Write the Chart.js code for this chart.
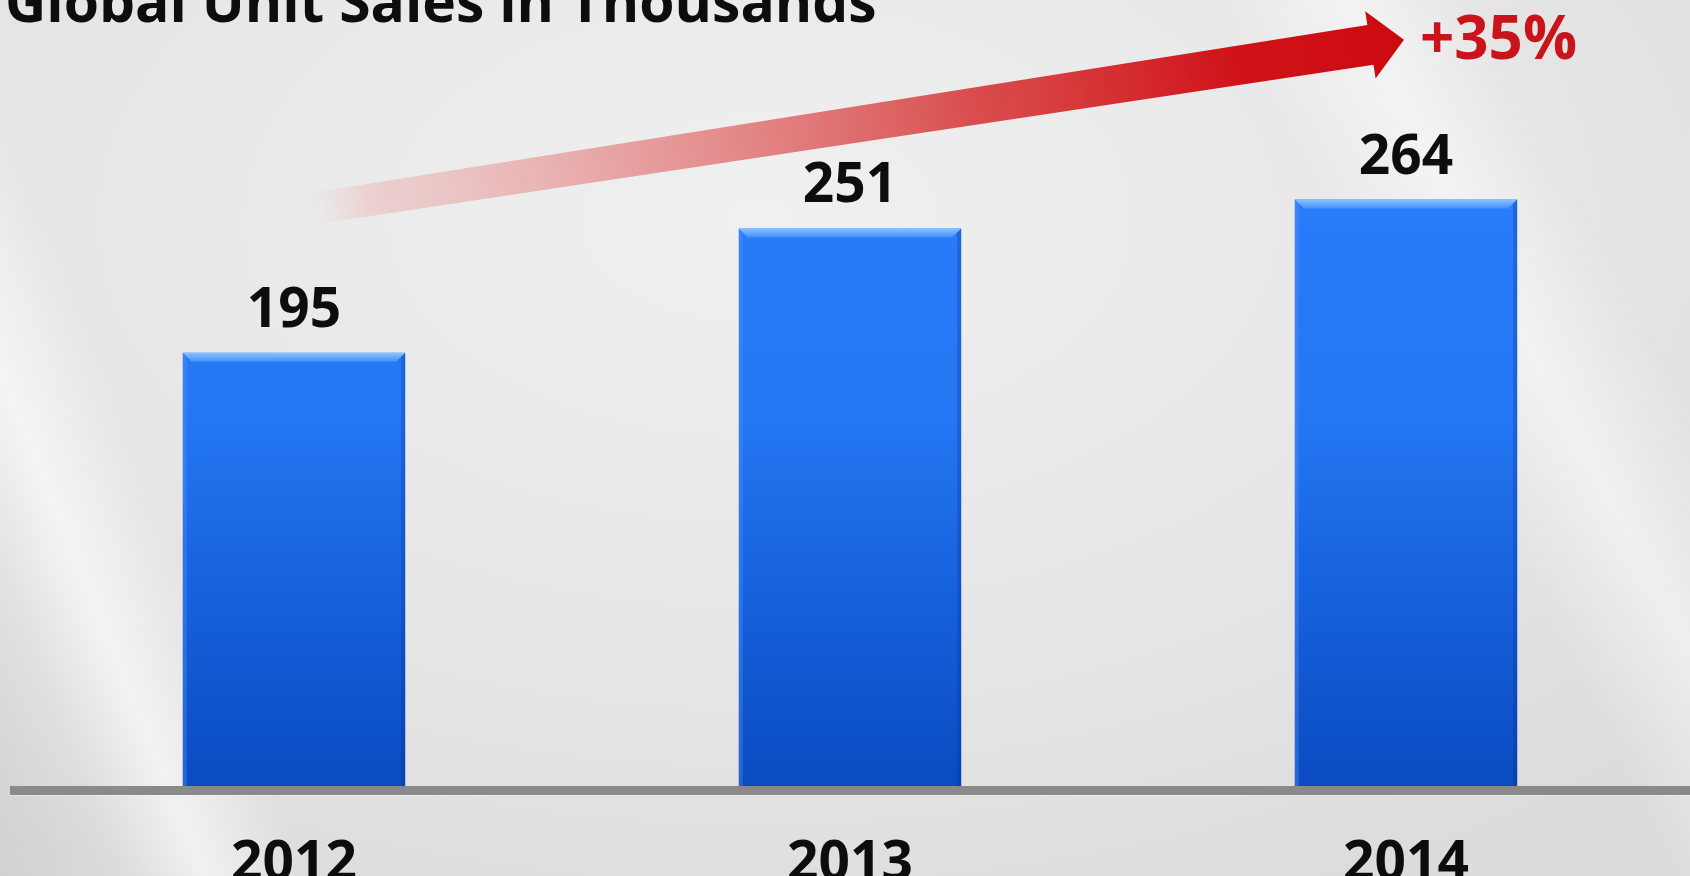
<!DOCTYPE html>
<html>
<head>
<meta charset="utf-8">
<script src="https://cdn.jsdelivr.net/npm/chart.js@4.4.1/dist/chart.umd.min.js"></script>
<style>
  html, body { margin: 0; padding: 0; width: 1690px; height: 876px; overflow: hidden; }
  body {
    background:
      linear-gradient(68deg, rgba(200,200,200,0.55) 0%, rgba(200,200,200,0) 6%, rgba(255,255,255,0.6) 10%, rgba(255,255,255,0) 15%, rgba(255,255,255,0) 100%),
      linear-gradient(62deg, rgba(255,255,255,0) 78%, rgba(255,255,255,0.5) 84%, rgba(255,255,255,0) 90%),
      radial-gradient(ellipse 75% 85% at 45% 25%, #f0f0f0 0%, #e7e7e7 55%, #dcdcdc 100%);
  }
  #wrap { position: absolute; left: 0; top: 0; width: 1690px; height: 942px; }
</style>
</head>
<body>
<div id="wrap"><canvas id="c" width="1690" height="942"></canvas></div>
<script>
const chartTitle = 'Global Unit Sales in Thousands';
const categories = ['2012', '2013', '2014'];
const unitSales = [195, 251, 264];
const growthLabel = '+35%';

const FONT = '"Open Sans", "DejaVu Sans", sans-serif';

function barGradient(ctx, area) {
  const g = ctx.createLinearGradient(0, area.bottom, 0, area.top);
  g.addColorStop(0, '#0a4bc0');
  g.addColorStop(0.25, '#1660dc');
  g.addColorStop(0.5, '#2476f2');
  g.addColorStop(1, '#2d80ff');
  return g;
}

const decorPlugin = {
  id: 'decor',
  beforeDatasetsDraw(chart) {
    const ctx = chart.ctx;
    const xs = chart.scales.x, ys = chart.scales.y;
    const W = chart.width;
    // baseline
    const base = ys.getPixelForValue(0);
    ctx.save();
    ctx.fillStyle = '#8a8a8a';
    ctx.fillRect(10, base, W - 10, 9);
    ctx.fillStyle = 'rgba(255,255,255,0.35)';
    ctx.fillRect(10, base + 9, W - 10, 1);
    ctx.restore();

    // title (partly cut at top)
    ctx.save();
    ctx.font = 'bold 57px ' + FONT;
    ctx.fillStyle = '#0d0d0d';
    ctx.textBaseline = 'alphabetic';
    ctx.textAlign = 'left';
    ctx.fillText(chartTitle, 5, 22);
    ctx.restore();

    // growth arrow
    const x0 = xs.getPixelForValue(0) + 20, y0 = ys.getPixelForValue(260);
    const x1 = xs.getPixelForValue(2) - 2, y1 = ys.getPixelForValue(336);
    const dx = x1 - x0, dy = y1 - y0, len = Math.hypot(dx, dy);
    const ux = dx / len, uy = dy / len, nx = -uy, ny = ux;
    const headL = 34, headW = 34, tailW = 16, neckW = 20;
    const bx = x1 - ux * headL, by = y1 - uy * headL;
    ctx.save();
    const g = ctx.createLinearGradient(x0, y0, x1, y1);
    g.addColorStop(0, 'rgba(240,180,180,0.0)');
    g.addColorStop(0.05, 'rgba(236,160,160,0.35)');
    g.addColorStop(0.3, 'rgba(228,130,130,0.75)');
    g.addColorStop(0.6, 'rgba(216,70,70,0.95)');
    g.addColorStop(0.85, '#d01218');
    g.addColorStop(1, '#cc0b10');
    ctx.fillStyle = g;
    ctx.beginPath();
    ctx.moveTo(x0 + nx * tailW, y0 + ny * tailW);
    ctx.lineTo(bx + nx * neckW, by + ny * neckW);
    ctx.lineTo(bx + nx * headW, by + ny * headW);
    ctx.lineTo(x1, y1);
    ctx.lineTo(bx - nx * headW, by - ny * headW);
    ctx.lineTo(bx - nx * neckW, by - ny * neckW);
    ctx.lineTo(x0 - nx * tailW, y0 - ny * tailW);
    ctx.closePath();
    ctx.fill();

    ctx.font = 'bold 60px ' + FONT;
    ctx.fillStyle = '#c9141c';
    ctx.textAlign = 'left';
    ctx.textBaseline = 'alphabetic';
    ctx.fillText(growthLabel, x1 + 16, y1 + 19);
    ctx.restore();
  },
  afterDatasetsDraw(chart) {
    const ctx = chart.ctx;
    const meta = chart.getDatasetMeta(0);
    ctx.save();
    meta.data.forEach((bar, i) => {
      const p = bar.getProps(['x', 'y', 'width', 'base'], true);
      const l = p.x - p.width / 2, r = p.x + p.width / 2, t = p.y, b = p.base;
      const bev = 9;
      const tg = ctx.createLinearGradient(0, t, 0, t + bev);
      tg.addColorStop(0, '#8cc2ff');
      tg.addColorStop(1, '#3f90ff');
      ctx.fillStyle = tg;
      ctx.beginPath();
      ctx.moveTo(l, t); ctx.lineTo(r, t); ctx.lineTo(r - bev, t + bev); ctx.lineTo(l + bev, t + bev); ctx.closePath();
      ctx.fill();
      ctx.fillStyle = 'rgba(90,150,255,0.35)';
      ctx.beginPath();
      ctx.moveTo(l, t); ctx.lineTo(l + 4, t + 4); ctx.lineTo(l + 4, b); ctx.lineTo(l, b); ctx.closePath(); ctx.fill();
      ctx.fillStyle = 'rgba(0,40,140,0.25)';
      ctx.beginPath();
      ctx.moveTo(r, t); ctx.lineTo(r - 4, t + 4); ctx.lineTo(r - 4, b); ctx.lineTo(r, b); ctx.closePath(); ctx.fill();
      ctx.font = 'bold 55px ' + FONT;
      ctx.fillStyle = '#0d0d0d';
      ctx.textAlign = 'center';
      ctx.textBaseline = 'alphabetic';
      ctx.fillText(String(unitSales[i]), p.x, t - 26);
    });
    ctx.restore();
  }
};

new Chart(document.getElementById('c'), {
  type: 'bar',
  data: {
    labels: categories,
    datasets: [{
      data: unitSales,
      backgroundColor: (c) => {
        const area = c.chart.chartArea;
        if (!area) return '#2476f2';
        return barGradient(c.chart.ctx, area);
      },
      borderWidth: 0,
      categoryPercentage: 1.0,
      barPercentage: 0.4
    }]
  },
  options: {
    responsive: false,
    animation: false,
    layout: { padding: { left: 16, right: 6, top: 53, bottom: 0 } },
    plugins: { legend: { display: false }, tooltip: { enabled: false }, title: { display: false } },
    scales: {
      x: {
        grid: { display: false, drawTicks: false },
        border: { display: false },
        ticks: { color: '#0d0d0d', font: { family: FONT, size: 55, weight: 'bold' }, padding: 45 }
      },
      y: { display: false, min: 0, max: 330 }
    }
  },
  plugins: [decorPlugin]
});
</script>
</body>
</html>
